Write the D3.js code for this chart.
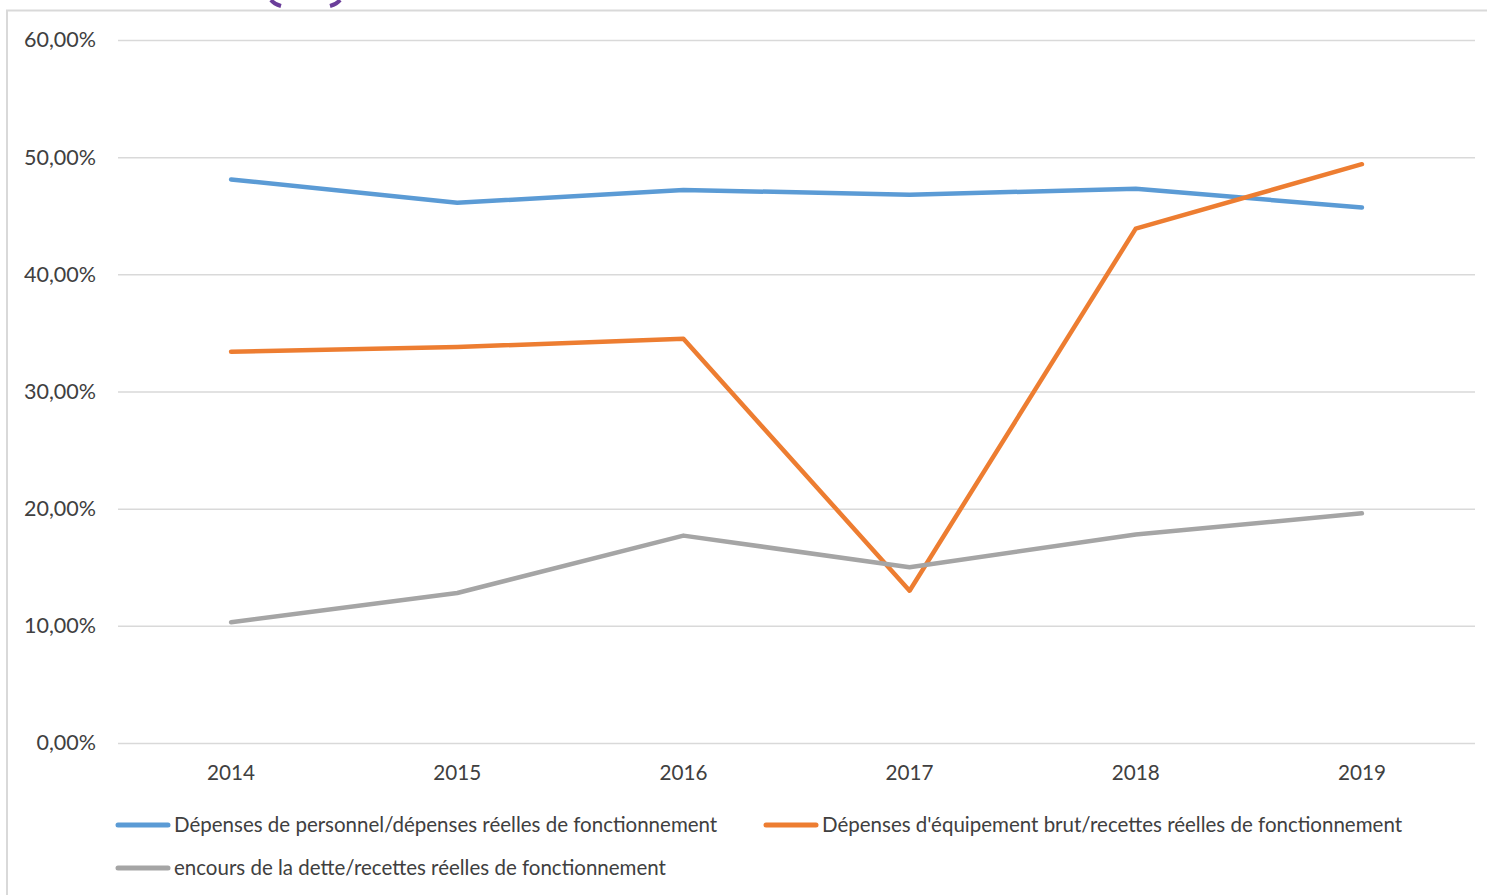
<!DOCTYPE html>
<html><head><meta charset="utf-8">
<script src="https://cdn.jsdelivr.net/npm/d3@7"></script>
<style>body{margin:0;background:#fff}svg{display:block}text{font-family:Lato,"Open Sans",sans-serif;fill:#404040}</style>
</head><body>
<svg id="c" width="1487" height="895"></svg>
<script>
const years = ["2014","2015","2016","2017","2018","2019"];
const personnel = [48.1, 46.1, 47.2, 46.8, 47.3, 45.7];
const equipement = [33.4, 33.8, 34.5, 13.0, 43.9, 49.4];
const dette = [10.3, 12.8, 17.7, 15.0, 17.8, 19.6];
const yTicks = [0, 10, 20, 30, 40, 50, 60];
const seriesNames = [
  "Dépenses de personnel/dépenses réelles de fonctionnement",
  "Dépenses d'équipement brut/recettes réelles de fonctionnement",
  "encours de la dette/recettes réelles de fonctionnement"
];
const colors = ["#5B9BD5", "#ED7D31", "#A5A5A5"];
const series = [personnel, equipement, dette];

const svg = d3.select("#c");
svg.append("path").attr("d","M7,1000 L7,10.5 L1500,10.5").attr("fill","none").attr("stroke","#D9D9D9").attr("stroke-width",2);
svg.append("path").attr("d","M271,0 Q274,4 281,6").attr("fill","none").attr("stroke","#6A3D9A").attr("stroke-width",4);
svg.append("path").attr("d","M340,0 Q337,4 330,6").attr("fill","none").attr("stroke","#6A3D9A").attr("stroke-width",4);

const x = d3.scaleBand().domain(years).range([118, 1475]);
const y = d3.scaleLinear().domain([0, 60]).range([743, 40]);

const yAxis = svg.append("g").attr("transform","translate(118,0)")
  .call(d3.axisLeft(y).tickValues(yTicks).tickSize(-(1475-118)).tickFormat(d => d3.format(".2f")(d).replace(".", ",") + "%"));
yAxis.select(".domain").remove();
yAxis.selectAll(".tick line").attr("stroke","#D9D9D9").attr("stroke-width",1.5);
yAxis.selectAll(".tick text").attr("x",-22).attr("font-size",21.5).attr("fill","#404040").attr("font-family","Lato");

const xAxis = svg.append("g").attr("transform","translate(0,743)")
  .call(d3.axisBottom(x).tickSize(0));
xAxis.select(".domain").remove();
xAxis.selectAll(".tick text").attr("dy",0).attr("y",37).attr("font-size",20.7).attr("fill","#404040").attr("font-family","Lato");

const line = d3.line().x((d,i) => x(years[i]) + x.bandwidth()/2).y(d => y(d));
series.forEach((s,i) => {
  svg.append("path").datum(s).attr("d", line).attr("fill","none")
    .attr("stroke", colors[i]).attr("stroke-width",4.5).attr("stroke-linejoin","round").attr("stroke-linecap","round");
});

const legendPos = [[116,825],[764,825],[116,868]];
seriesNames.forEach((n,i) => {
  const [lx,ly] = legendPos[i];
  svg.append("line").attr("x1",lx+2).attr("x2",lx+52).attr("y1",ly).attr("y2",ly)
    .attr("stroke",colors[i]).attr("stroke-width",5).attr("stroke-linecap","round");
  svg.append("text").attr("x",lx+58).attr("y",ly).attr("dy","0.35em").attr("font-size",20.5).text(n);
});
</script>
</body></html>
